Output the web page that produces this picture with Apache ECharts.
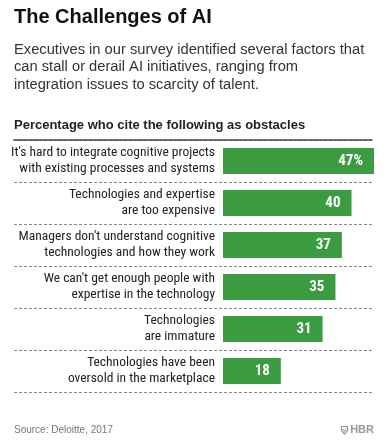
<!DOCTYPE html>
<html><head><meta charset="utf-8">
<script src="https://cdn.jsdelivr.net/npm/echarts@6/dist/echarts.min.js"></script>
<style>html,body{margin:0;padding:0;background:#fff}#c{width:391px;height:442px}</style>
</head><body><div id="c"></div>
<script>
const categories = [
  "It's hard to integrate cognitive projects\nwith existing processes and systems",
  "Technologies and expertise\nare too expensive",
  "Managers don't understand cognitive\ntechnologies and how they work",
  "We can't get enough people with\nexpertise in the technology",
  "Technologies\nare immature",
  "Technologies have been\noversold in the marketplace"
];
const values = [47, 40, 37, 35, 31, 18];
const titleText = "The Challenges of AI";
const subtitleText = "Executives in our survey identified several factors that\ncan stall or derail AI initiatives, ranging from\nintegration issues to scarcity of talent.";
const headerText = "Percentage who cite the following as obstacles";
const sourceText = "Source: Deloitte, 2017";

const NARROW = '"Liberation Sans Narrow", "Roboto Condensed", "DejaVu Sans Condensed", sans-serif';
const chart = echarts.init(document.getElementById('c'), null, {renderer: 'canvas'});
chart.setOption({
  animation: false,
  backgroundColor: '#fff',
  graphic: [
    {type: 'text', left: 14, top: 7, style: {text: titleText, font: 'bold 20px "Liberation Sans", Arial, sans-serif', fill: '#111'}},
    {type: 'text', left: 14, top: 41, style: {text: subtitleText, font: '14.7px "Liberation Sans", Arial, sans-serif', fill: '#333', lineHeight: 17.5}},
    {type: 'text', left: 14, top: 119, style: {text: headerText, font: 'bold 13px "Liberation Sans", Arial, sans-serif', fill: '#222'}},
    {type: 'text', left: 14, top: 425, style: {text: sourceText, font: '10px "Liberation Sans", Arial, sans-serif', fill: '#777'}},
    {type: 'polygon', shape: {points: [[341.5, 426.5], [347.5, 426.5], [347.5, 430.5], [344.5, 434], [341.5, 430.5]]},
     style: {fill: 'none', stroke: '#999', lineWidth: 1.2}},
    {type: 'polyline', shape: {points: [[342.8, 428.5], [344.5, 431.5], [346.2, 428.5]]},
     style: {fill: 'none', stroke: '#999', lineWidth: 1}},
    {type: 'text', right: 17, top: 424, style: {text: 'HBR', font: 'bold 11px "Liberation Sans", Arial, sans-serif', fill: '#999'}}
  ],
  grid: [
    {left: 14, right: 19, top: 140, bottom: 50, containLabel: false, outerBoundsMode: 'none'},
    {left: 223, right: 17, top: 140, bottom: 50, containLabel: false, outerBoundsMode: 'none'}
  ],
  xAxis: [
    {gridIndex: 0, type: 'value', position: 'top', min: 0, max: 1, z: 5,
     axisLine: {show: true, onZero: false, lineStyle: {color: '#444', width: 1.5}},
     axisTick: {show: false}, axisLabel: {show: false}, splitLine: {show: false}},
    {gridIndex: 1, type: 'value', min: 0, max: 47, show: false, splitLine: {show: false}}
  ],
  yAxis: [
    {gridIndex: 0, type: 'category', data: categories, inverse: true, z: 1,
     axisLine: {show: false}, axisTick: {show: false}, axisLabel: {show: false},
     splitLine: {show: true, lineStyle: {color: '#888', type: [3, 2], width: 1}}},
    {gridIndex: 1, type: 'category', data: categories, inverse: true,
     axisLine: {show: false}, axisTick: {show: false},
     axisLabel: {margin: 8, color: '#222', fontFamily: NARROW, fontSize: 13.5, lineHeight: 16, align: 'right'}}
  ],
  series: [{
    type: 'bar', xAxisIndex: 1, yAxisIndex: 1, data: values, barWidth: 26,
    itemStyle: {color: '#3b9b41'},
    label: {show: true, position: 'insideRight', distance: 11, color: '#fff',
      fontFamily: NARROW, fontWeight: 'bold', fontSize: 15,
      formatter: p => p.dataIndex === 0 ? p.value + '%' : String(p.value)}
  }]
});
</script></body></html>
